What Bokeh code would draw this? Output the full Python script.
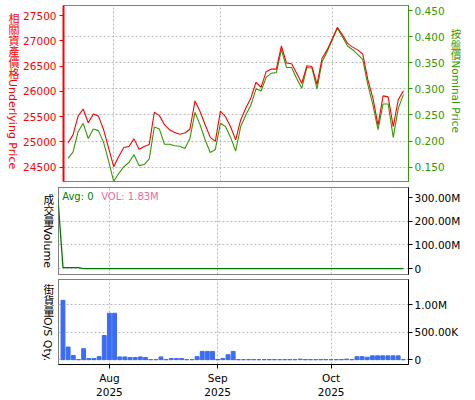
import pandas as pd
from bokeh.plotting import figure
from bokeh.layouts import column, row
from bokeh.models import Range1d, LinearAxis, FixedTicker, Grid, Label, NumeralTickFormatter, Div
from bokeh.embed import file_html
from bokeh.resources import INLINE

# ---------------- data ----------------
hk_holidays = ["2025-10-01", "2025-10-07"]
trade_dates = [d for d in pd.bdate_range("2025-07-21", "2025-10-23")
               if d.strftime("%Y-%m-%d") not in hk_holidays]

underlying = [24980, 25140, 25510, 25650, 25380, 25550, 25510, 25250, 24880, 24510,
              24710, 24890, 24910, 25060, 24855, 24910, 24950, 25590, 25520, 25340,
              25240, 25185, 25150, 25175, 25250, 25810, 25600, 25340, 25090, 25010,
              25610, 25500, 25300, 25040, 25440, 25670, 25870, 26180, 26080, 26390,
              26440, 26440, 26900, 26560, 26545, 26360, 26160, 26505, 26490, 26140,
              26655, 26820, 27040, 27265, 27120, 26950, 26875, 26820, 26735, 26230,
              25865, 25330, 25910, 25890, 25300, 25840, 26010]

nominal = [0.167, 0.179, 0.218, 0.234, 0.205, 0.223, 0.220, 0.198, 0.162, 0.123,
           0.138, 0.151, 0.159, 0.174, 0.153, 0.155, 0.166, 0.227, 0.223, 0.194,
           0.194, 0.191, 0.190, 0.186, 0.205, 0.255, 0.231, 0.202, 0.178, 0.184,
           0.234, 0.228, 0.207, 0.181, 0.228, 0.250, 0.269, 0.300, 0.296, 0.322,
           0.330, 0.331, 0.375, 0.341, 0.341, 0.320, 0.301, 0.341, 0.340, 0.300,
           0.352, 0.371, 0.394, 0.416, 0.400, 0.382, 0.375, 0.366, 0.356, 0.308,
           0.269, 0.222, 0.271, 0.271, 0.207, 0.263, 0.289]

os_qty = [1080000, 230000, 75000, 0, 200000, 20000, 20000, 55000, 440000, 845000,
          845000, 50000, 50000, 40000, 40000, 50000, 40000, 0, 0, 50000,
          0, 20000, 20000, 20000, 0, 0, 55000, 150000, 150000, 150000,
          0, 20000, 90000, 150000, 0, 0, 0, 0, 0, 0,
          0, 0, 0, 0, 0, 0, 10000, 0, 0, 0,
          0, 0, 0, 0, 0, 10000, 0, 55000, 55000, 45000,
          70000, 70000, 70000, 70000, 70000, 70000, 0]

# volume line starts one trading day earlier (2025-07-18)
turnover = [303e6, 4e6, 4e6, 4e6, 4e6] + [0] * 63

avg_text = "Avg: 0"
vol_text = "VOL: 1.83M"
title_underlying = "相關資產價格Underlying Price"
title_nominal = "按盤價Nominal Price"
title_volume = "成交量Volume"
title_qty = "街貨量O/S Qty."

underlying_ticks = [24500, 25000, 25500, 26000, 26500, 27000, 27500]
nominal_ticks = [0.15, 0.20, 0.25, 0.30, 0.35, 0.40, 0.45]
volume_ticks = {0: "0", 100000000: "100.00M", 200000000: "200.00M", 300000000: "300.00M"}
qty_ticks = {0: "0", 500000: "500.00K", 1000000: "1.00M"}

# ---------------- derived ----------------
idx = list(range(len(trade_dates)))
turn_x = list(range(-1, len(trade_dates)))
month_idx = [i for i in range(1, len(trade_dates)) if trade_dates[i].month != trade_dates[i - 1].month]
month_labels = {i: trade_dates[i].strftime("%b") + "\n" + trade_dates[i].strftime("%Y") for i in month_idx}

FONT = "DejaVu Sans"
RED = "#ff0000"
GREEN = "#339900"
GRID = "#b8b8b8"
FW = 350

xr = Range1d(-0.87, 67.0)


def base_fig(frame_h, top, bottom, left, right, yr):
    p = figure(width=left + FW + right, height=top + frame_h + bottom, x_range=xr, y_range=yr,
               x_axis_location=None, y_axis_location=None,
               toolbar_location=None, output_backend="svg",
               min_border_left=left, min_border_right=right,
               min_border_top=top, min_border_bottom=bottom)
    p.center = []
    p.outline_line_color = "black"
    p.outline_line_dash = "1 1"
    p.outline_line_width = 1
    p.add_layout(Grid(dimension=0, ticker=FixedTicker(ticks=month_idx),
                      grid_line_color=GRID, grid_line_dash="2 2"))
    return p


def style_axis(ax, color):
    ax.axis_line_color = color
    ax.major_tick_line_color = color
    ax.minor_tick_line_color = None
    ax.major_tick_out = 4
    ax.major_tick_in = 0
    ax.major_label_text_color = color
    ax.major_label_text_font = FONT
    ax.major_label_text_font_size = "10.5px"
    ax.major_label_standoff = 3


def vdiv(text, color, size, w, h, mleft, mtop):
    html = ('<div style="writing-mode:vertical-rl; white-space:nowrap; line-height:1; '
            f"font-family:'DejaVu Sans','Noto Sans CJK TC',sans-serif; font-size:{size}; "
            f'color:{color}; margin-left:{mleft}px; margin-top:{mtop}px;">{text}</div>')
    return Div(text=html, width=w, height=h, margin=0)


# ---------------- main price panel ----------------
p1 = base_fig(176, 5, 3, 38, 40, Range1d(24217, 27698))
p1.extra_y_ranges = {"nom": Range1d(0.1226, 0.4596)}
p1.add_layout(Grid(dimension=1, y_range_name="nom",
                   ticker=FixedTicker(ticks=nominal_ticks[:-1]),
                   grid_line_color=GRID, grid_line_dash="2 2"))
ax_l = LinearAxis(ticker=FixedTicker(ticks=underlying_ticks))
style_axis(ax_l, RED)
ax_l.axis_line_width = 2
p1.add_layout(ax_l, "left")
ax_r = LinearAxis(y_range_name="nom", ticker=FixedTicker(ticks=nominal_ticks),
                  formatter=NumeralTickFormatter(format="0.000"))
style_axis(ax_r, GREEN)
ax_r.major_label_standoff = 2
p1.add_layout(ax_r, "right")
p1.line(idx, nominal, color=GREEN, line_width=1.1, y_range_name="nom")
p1.line(idx, underlying, color=RED, line_width=1.1)

# ---------------- volume panel ----------------
p2 = base_fig(87, 3, 2, 5, 56, Range1d(-25.3e6, 343.5e6))
p2.add_layout(Grid(dimension=1, ticker=FixedTicker(ticks=[0, 100000000, 200000000]),
                   grid_line_color=GRID, grid_line_dash="2 2"))
ax_v = LinearAxis(ticker=FixedTicker(ticks=list(volume_ticks.keys())),
                  major_label_overrides=volume_ticks)
style_axis(ax_v, "black")
ax_v.major_label_standoff = 2
p2.add_layout(ax_v, "right")
p2.line(turn_x, turnover, color="#007a00", line_width=1.3)
p2.add_layout(Label(x=3.7, y=78, x_units="screen", y_units="screen", text=avg_text,
                    text_align="left", text_baseline="middle", text_color="#008000",
                    text_font=FONT, text_font_size="10px"))
p2.add_layout(Label(x=42.7, y=78, x_units="screen", y_units="screen", text=vol_text,
                    text_align="left", text_baseline="middle", text_color="#f06a9c",
                    text_font=FONT, text_font_size="10px"))

# ---------------- outstanding qty panel ----------------
p3 = base_fig(88, 3, 33, 5, 56, Range1d(-0.088e6, 1.459e6))
p3.add_layout(Grid(dimension=1, ticker=FixedTicker(ticks=list(qty_ticks.keys())),
                   grid_line_color=GRID, grid_line_dash="2 2"))
ax_q = LinearAxis(ticker=FixedTicker(ticks=list(qty_ticks.keys())),
                  major_label_overrides=qty_ticks)
style_axis(ax_q, "black")
ax_q.major_label_standoff = 2
p3.add_layout(ax_q, "right")
ax_x = LinearAxis(ticker=FixedTicker(ticks=month_idx), major_label_overrides=month_labels)
style_axis(ax_x, "black")
p3.add_layout(ax_x, "below")
p3.vbar(x=idx, top=os_qty, width=0.75, color="#3a6cf4")

# ---------------- vertical titles ----------------
d1l = vdiv(title_underlying, RED, "11px", 20, p1.height, 7, 13)
d1r = vdiv(title_nominal, GREEN, "10.5px", 16, p1.height, 2, 29)
d2l = vdiv(title_volume, "black", "11px", 53, p2.height, 42, 10)
d3l = vdiv(title_qty, "black", "11px", 53, p3.height, 42, 8)

layout = column(row(d1l, p1, d1r, spacing=0),
                row(d2l, p2, spacing=0),
                row(d3l, p3, spacing=0), spacing=0)

open("out.html", "w").write(file_html(layout, INLINE))
